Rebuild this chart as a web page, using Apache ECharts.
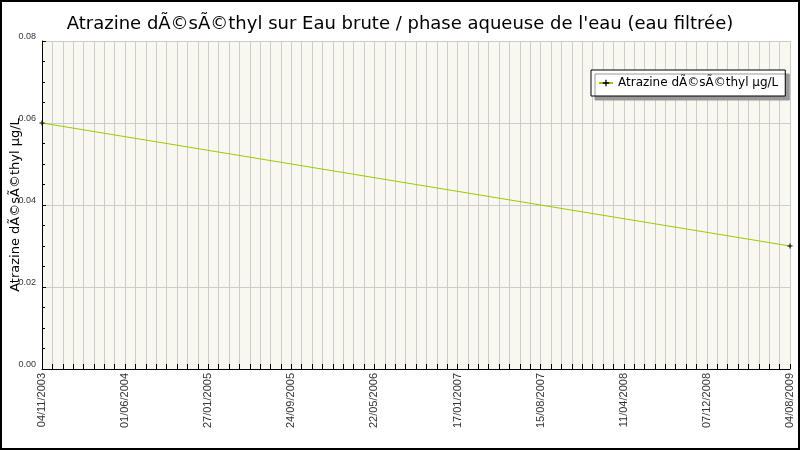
<!DOCTYPE html>
<html>
<head>
<meta charset="utf-8">
<script src="https://cdn.jsdelivr.net/npm/echarts@6/dist/echarts.min.js"></script>
<style>
  html, body { margin: 0; padding: 0; background: #fff; }
  #chart { width: 800px; height: 450px; }
</style>
</head>
<body>
<div id="chart"></div>
<script>
// labels shown every 8th category on the x axis
const tickLabels = ['04/11/2003', '01/06/2004', '27/01/2005', '24/09/2005', '22/05/2006',
    '17/01/2007', '15/08/2007', '11/04/2008', '07/12/2008', '04/08/2009'];
const ticksPerLabel = 8;
// measurements
const measureDates = ['04/11/2003', '04/08/2009'];
const measureValues = [0.06, 0.03];
const yTicks = [0, 0.02, 0.04, 0.06, 0.08];

const titleText = "Atrazine dÃ©sÃ©thyl sur Eau brute / phase aqueuse de l'eau (eau filtrée)";
const seriesName = 'Atrazine dÃ©sÃ©thyl µg/L';

// category axis: one slot per tick, label only on every 8th
let categories = [];
tickLabels.forEach((lab, i) => {
    categories.push(lab);
    if (i < tickLabels.length - 1) {
        for (let k = 1; k < ticksPerLabel; k++) categories.push('');
    }
});

const seriesData = measureDates.map((d, i) => [categories.indexOf(d), measureValues[i]]);

const myChart = echarts.init(document.getElementById('chart'));
const font = 'DejaVu Sans';
let option = {
    animation: false,
    backgroundColor: '#fff',
    title: {
        text: titleText,
        left: 'center',
        top: 10,
        textStyle: { fontFamily: font, fontSize: 18, fontWeight: 'normal', color: '#000' }
    },
    legend: {
        data: [seriesName],
        left: 591,
        top: 70,
        padding: [7, 7, 7, 7],
        itemWidth: 14,
        itemHeight: 8,
        itemGap: 5,
        backgroundColor: '#fff',
        borderColor: '#000',
        borderWidth: 1,
        borderRadius: 0,
        shadowColor: '#999',
        shadowBlur: 0,
        shadowOffsetX: 4,
        shadowOffsetY: 4,
        textStyle: { fontFamily: font, fontSize: 12, color: '#000' }
    },
    grid: {
        left: 42, right: 10, top: 41, bottom: 81,
        outerBoundsMode: 'none',
        containLabel: false,
        show: true,
        backgroundColor: '#f8f8f0',
        borderWidth: 0
    },
    xAxis: {
        type: 'category',
        data: categories,
        boundaryGap: false,
        axisLine: { lineStyle: { color: '#000', width: 1 } },
        axisTick: { show: true, inside: true, length: 5, interval: 0, lineStyle: { color: '#000' } },
        axisLabel: {
            interval: ticksPerLabel - 1,
            rotate: 90,
            margin: 4,
            fontFamily: 'Liberation Sans',
            fontSize: 11,
            color: '#333'
        },
        splitLine: { show: true, interval: 0, lineStyle: { color: '#cccccc', width: 1 } }
    },
    yAxis: {
        type: 'value',
        min: yTicks[0],
        max: yTicks[yTicks.length - 1],
        interval: yTicks[1] - yTicks[0],
        name: seriesName,
        nameLocation: 'middle',
        nameGap: 20,
        nameMoveOverlap: false,
        nameTextStyle: { fontFamily: font, fontSize: 13, color: '#000' },
        axisLine: { show: true, lineStyle: { color: '#000', width: 1 } },
        axisTick: { show: true, inside: true, length: 4, lineStyle: { color: '#000' } },
        minorTick: { show: true, splitNumber: 4, length: 3, lineStyle: { color: '#000' } },
        axisLabel: {
            formatter: v => v.toFixed(2),
            margin: 6,
            fontFamily: 'Liberation Sans',
            fontSize: 9,
            color: '#333',
            verticalAlign: 'bottom'
        },
        splitLine: { show: true, lineStyle: { color: '#cccccc', width: 1 } }
    },
    graphic: [{
        type: 'rect',
        shape: { x: 1, y: 1, width: 798, height: 448 },
        style: { fill: 'none', stroke: '#000', lineWidth: 2 },
        silent: true
    }],
    series: [{
        name: seriesName,
        type: 'line',
        data: seriesData,
        symbol: 'path://M0,2h5v1h-5z M2,0h1v5h-1z',
        symbolSize: 5,
        showSymbol: true,
        itemStyle: { color: '#000' },
        lineStyle: { color: '#99cc00', width: 1 }
    }]
};
myChart.setOption(option);
</script>
</body>
</html>
